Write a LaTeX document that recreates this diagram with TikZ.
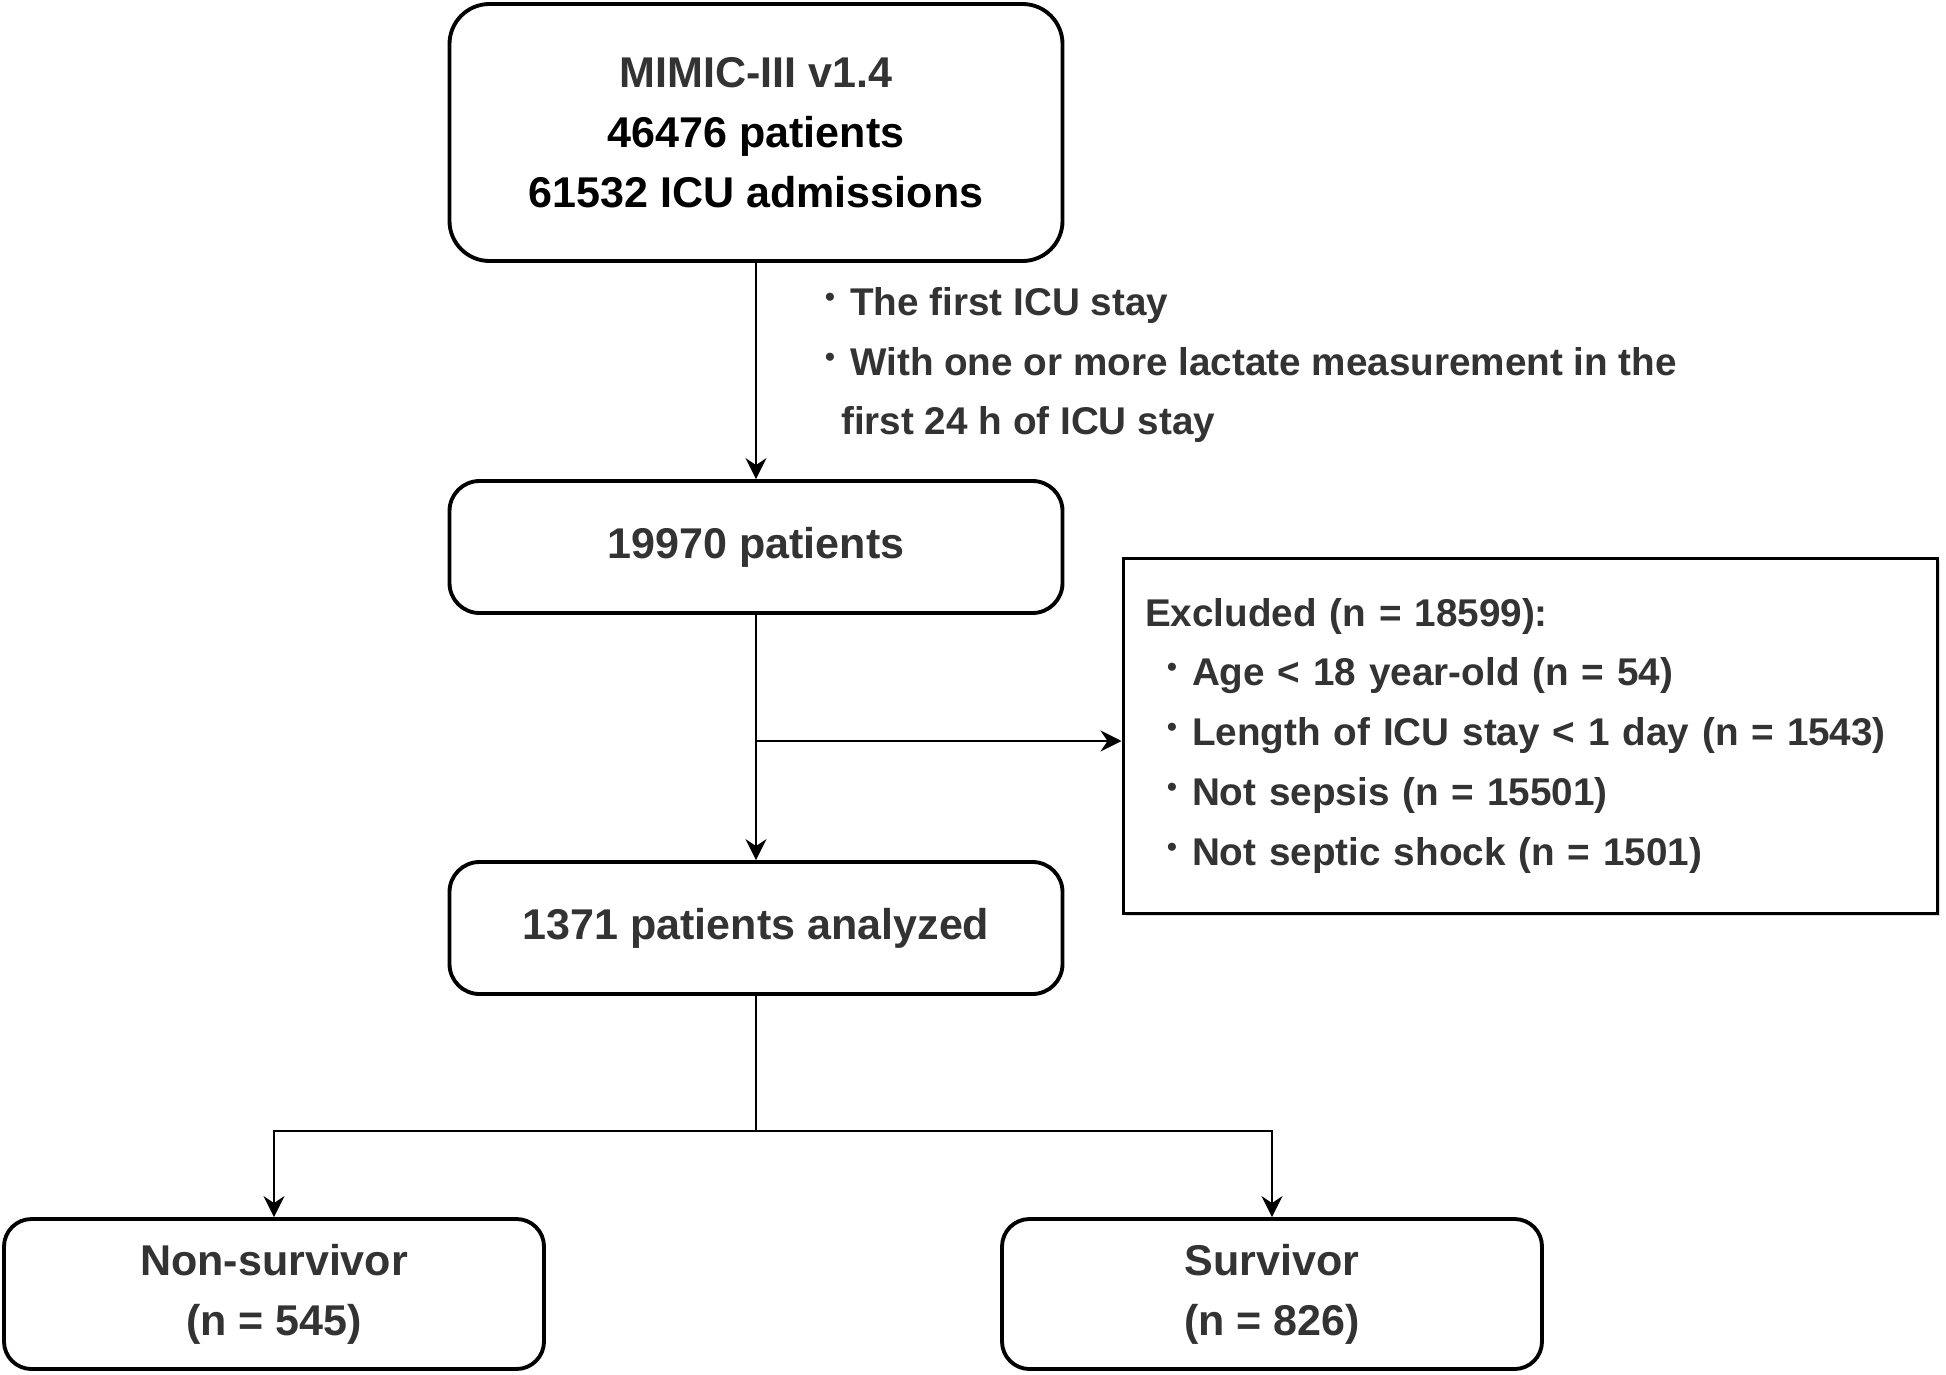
\documentclass[tikz,border=0pt]{standalone}
\usepackage{fontspec}
\setmainfont{Liberation Sans}
\usetikzlibrary{arrows.meta,shadows}
\definecolor{txt}{HTML}{333333}
\newcommand{\bul}{\makebox[0.5cm][l]{\raisebox{5pt}{\fontsize{16}{16}\selectfont\textbullet}}}

\begin{document}
\begin{tikzpicture}[
  box/.style={draw, line width=2.2pt, rounded corners=0.6cm, align=center, text=txt,
    font=\bfseries\fontsize{24.5}{34}\selectfont, minimum width=12.26cm, minimum height=2.64cm},
  endbox/.style={box, rounded corners=0.55cm, minimum width=10.8cm, minimum height=3cm},
  note/.style={text=txt, align=left, font=\bfseries\fontsize{22}{34}\selectfont},
  arr/.style={-{Stealth[length=0.42cm,width=0.42cm,inset=0.14cm]}, line width=1.3pt}
]
\useasboundingbox (0,0) rectangle (38.92,-27.48);
\node[box, rounded corners=0.8cm, minimum height=5.14cm] (mimic) at (15.12,-2.65)
  {MIMIC-III v1.4\\ \textcolor{black}{46476 patients}\\ \textcolor{black}{61532 ICU admissions}};
\node[box] (pat) at (15.12,-10.94) {19970 patients};
\node[box] (ana) at (15.12,-18.56) {1371 patients analyzed};
\node[endbox] (non) at (5.48,-25.88) {Non-survivor\\ (n = 545)};
\node[endbox] (sur) at (25.44,-25.88) {Survivor\\ (n = 826)};
\node[note, anchor=west] (crit) at (16.38,-7.3)
  {\bul The first ICU stay\\ \bul With one or more lactate measurement in the\\ \hspace*{0.32cm}first 24 h of ICU stay};
\node[note, draw, fill=white, line width=1.7pt, text width=15.4cm, minimum height=7.1cm, inner xsep=0.44cm,
  drop shadow={shadow xshift=0.06cm, shadow yshift=-0.06cm, fill=black!15, opacity=1}] (exc) at (30.6,-14.71)
  {Excluded (n = 18599):\\
   \hspace*{0.44cm}\bul Age < 18 year-old (n = 54)\\
   \hspace*{0.44cm}\bul Length of ICU stay < 1 day (n = 1543)\\
   \hspace*{0.44cm}\bul Not sepsis (n = 15501)\\
   \hspace*{0.44cm}\bul Not septic shock (n = 1501)};
\coordinate (br) at (15.12,-14.82);
\coordinate (sp) at (15.12,-22.62);
\draw [arr] (mimic) -- (pat);
\draw [arr] (pat) -- (ana);
\draw [arr] (br) -- (br -| exc.west);
\draw [line width=1.3pt] (ana) -- (sp);
\draw [arr] (sp) -| (non);
\draw [arr] (sp) -| (sur);
\end{tikzpicture}
\end{document}
